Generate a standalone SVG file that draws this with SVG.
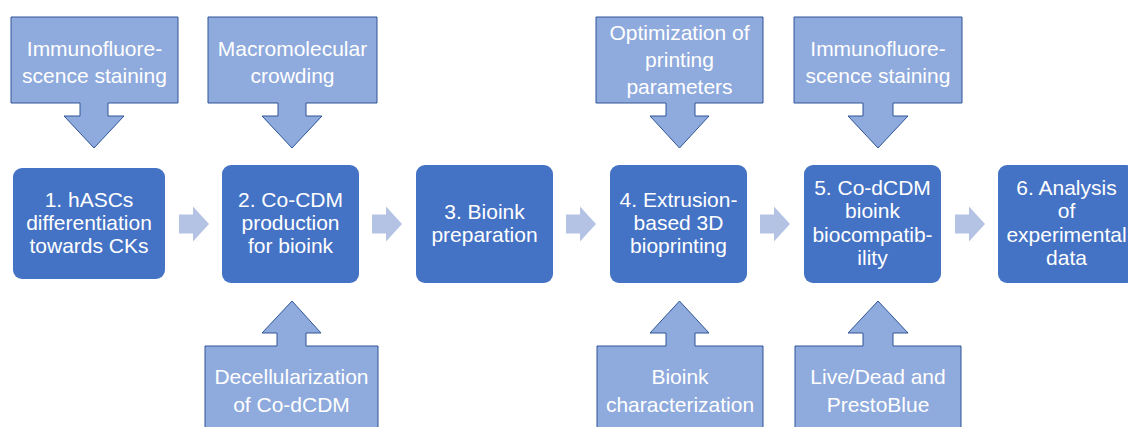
<svg xmlns="http://www.w3.org/2000/svg" width="1128" height="427" viewBox="0 0 1128 427">
<style>
.box{fill:#4472C4;}
.call{fill:#8FAADC;stroke:#2F5597;stroke-width:1;stroke-linejoin:miter;}
.arr{fill:#B4C3E4;}
text{font-family:"Liberation Sans",Arial,sans-serif;font-size:21px;fill:#FFFFFF;text-anchor:middle;}
</style>
<rect width="1128" height="427" fill="#FFFFFF"/>
<g id="connectors">
<path class="arr" d="M179,214.5 H193 V206.5 L209,224 L193,241.5 V233.5 H179 Z"/>
<path class="arr" d="M372,214.5 H386 V206.5 L402,224 L386,241.5 V233.5 H372 Z"/>
<path class="arr" d="M566,214.5 H580 V206.5 L596,224 L580,241.5 V233.5 H566 Z"/>
<path class="arr" d="M760,214.5 H774 V206.5 L790,224 L774,241.5 V233.5 H760 Z"/>
<path class="arr" d="M955,214.5 H969 V206.5 L985,224 L969,241.5 V233.5 H955 Z"/>
</g>
<g id="top1">
<path class="call" d="M11,17 H178 V103 H108 V116 H124 L94,148 L64,116 H80 V103 H11 Z"/>
<text x="94.5" y="56">Immunofluore-</text>
<text x="94.5" y="83">scence staining</text>
</g>
<g id="top2">
<path class="call" d="M208,17 H377 V103 H306 V116 H322 L292,148 L262,116 H278 V103 H208 Z"/>
<text x="292.5" y="56">Macromolecular</text>
<text x="292.5" y="83">crowding</text>
</g>
<g id="top4">
<path class="call" d="M596,17 H763 V103 H695 V116 H709 L679.5,148 L650,116 H666 V103 H596 Z"/>
<text x="679.5" y="40">Optimization of</text>
<text x="679.5" y="67">printing</text>
<text x="679.5" y="94">parameters</text>
</g>
<g id="top5">
<path class="call" d="M794,17 H962 V103 H893 V116 H908 L878,148 L848,116 H863 V103 H794 Z"/>
<text x="878" y="56">Immunofluore-</text>
<text x="878" y="83">scence staining</text>
</g>
<g id="bot2">
<path class="call" d="M205,432 V346 H277 V333 H262 L292,301 L321,333 H306 V346 H378 V432 Z"/>
<text x="291.5" y="384">Decellularization</text>
<text x="291.5" y="412">of Co-dCDM</text>
</g>
<g id="bot4">
<path class="call" d="M597,432 V346 H666 V333 H650 L679.5,301 L709,333 H695 V346 H763 V432 Z"/>
<text x="680" y="384">Bioink</text>
<text x="680" y="412">characterization</text>
</g>
<g id="bot5">
<path class="call" d="M795,432 V346 H863 V333 H848 L878,301 L908,333 H893 V346 H961 V432 Z"/>
<text x="878" y="384">Live/Dead and</text>
<text x="878" y="412">PrestoBlue</text>
</g>
<g id="box1">
<rect class="box" x="13" y="168" width="152" height="111" rx="9"/>
<text x="89" y="207">1. hASCs</text>
<text x="89" y="230">differentiation</text>
<text x="89" y="253">towards CKs</text>
</g>
<g id="box2">
<rect class="box" x="222" y="165" width="137" height="118" rx="9"/>
<text x="290.5" y="207">2. Co-CDM</text>
<text x="290.5" y="230">production</text>
<text x="290.5" y="253">for bioink</text>
</g>
<g id="box3">
<rect class="box" x="416" y="165" width="137" height="118" rx="9"/>
<text x="484.5" y="219">3. Bioink</text>
<text x="484.5" y="242">preparation</text>
</g>
<g id="box4">
<rect class="box" x="610" y="165" width="137" height="118" rx="9"/>
<text x="678.5" y="207">4. Extrusion-</text>
<text x="678.5" y="230">based 3D</text>
<text x="678.5" y="253">bioprinting</text>
</g>
<g id="box5">
<rect class="box" x="804" y="165" width="137" height="118" rx="9"/>
<text x="872.5" y="195">5. Co-dCDM</text>
<text x="872.5" y="218">bioink</text>
<text x="872.5" y="242">biocompatib-</text>
<text x="872.5" y="265">ility</text>
</g>
<g id="box6">
<rect class="box" x="998" y="165" width="137" height="118" rx="9"/>
<text x="1066.5" y="195">6. Analysis</text>
<text x="1066.5" y="218">of</text>
<text x="1066.5" y="242">experimental</text>
<text x="1066.5" y="265">data</text>
</g>
</svg>
